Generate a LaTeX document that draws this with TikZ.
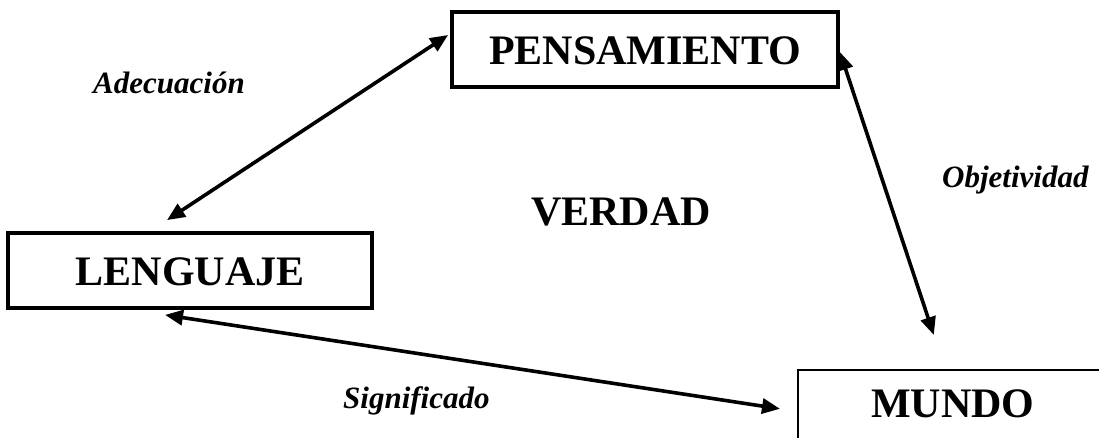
\documentclass[tikz,border=0pt]{standalone}
\usepackage{fontspec}
\setmainfont{Liberation Serif}
\usetikzlibrary{arrows.meta}
\tikzset{
  bigbox/.style={draw, line width=3.8pt, rectangle, inner sep=0pt, text height=30pt, text depth=0pt,
    font=\fontsize{42}{50}\selectfont\bfseries},
  label/.style={inner sep=0pt, anchor=base west, font=\fontsize{31}{37}\selectfont\bfseries\itshape},
  link/.style={line width=3.6pt, {Triangle[length=18pt,width=15pt]}-{Triangle[length=18pt,width=15pt]}}
}
\begin{document}
\begin{tikzpicture}[x=1pt,y=-1pt]
\useasboundingbox (0,0) rectangle (1099,437);
\clip (0,0) rectangle (1099,437);
\fill[white] (0,0) rectangle (1099,437);
\node[bigbox, minimum width=386pt, minimum height=75pt] (pens) at (645,49.5) {PENSAMIENTO};
\node[bigbox, minimum width=364pt, minimum height=75pt] (leng) at (190,270.5) {LENGUAJE};
\node[draw, line width=1.6pt, rectangle, inner sep=0pt, anchor=north west, minimum width=310pt, minimum height=90pt,
  text height=30pt, text depth=24pt, font=\fontsize{42}{50}\selectfont\bfseries] (mundo) at (797,369) {MUNDO};
\node[inner sep=0pt, anchor=base, font=\fontsize{42}{50}\selectfont\bfseries] (verdad) at (621,225) {VERDAD};
\node[label] (adec) at (93,93) {Adecuación};
\node[label] (obj) at (942,187) {Objetividad};
\node[label] (sig) at (343,408) {Significado};
\coordinate (a1) at ([xshift=-2pt,yshift=14.5pt]pens.west);
\coordinate (a2) at ([xshift=-23pt,yshift=11pt]leng.north);
\coordinate (b1) at ([yshift=-2.5pt]pens.east);
\coordinate (b2) at ([xshift=-19pt,yshift=34pt]mundo.north);
\coordinate (c1) at ([xshift=-25pt,yshift=-5pt]leng.south);
\coordinate (c2) at ([xshift=-17pt,yshift=6pt]mundo.west);
\draw[link] (a2) -- (a1);
\draw[link] (b1) -- (b2);
\draw[link] (c1) -- (c2);
\end{tikzpicture}
\end{document}
